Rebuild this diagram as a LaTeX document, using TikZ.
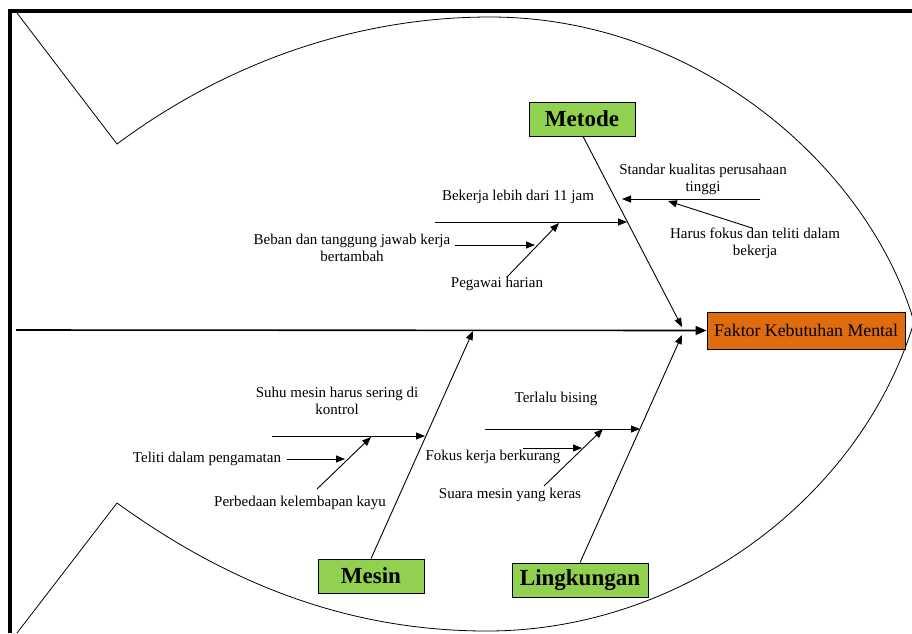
\documentclass[tikz,border=0pt]{standalone}
\usepackage{fontspec}
\setmainfont{Liberation Serif}
\usetikzlibrary{arrows.meta,positioning}

\definecolor{bonegreen}{RGB}{146,208,80}
\definecolor{headorange}{RGB}{224,108,16}

\tikzset{
  cause/.style={draw, line width=0.8pt, fill=bonegreen, font=\fontsize{23}{26}\selectfont\bfseries,
                minimum height=34pt, inner sep=0pt},
  effect/.style={draw, line width=1pt, fill=headorange, font=\fontsize{17.8}{20}\selectfont,
                 minimum width=198pt, minimum height=37pt, inner sep=0pt},
  lbl/.style={font=\fontsize{15}{17}\selectfont, align=center, inner sep=0pt},
  arr/.style={-{Triangle[length=9pt,width=7pt]}, line width=0.9pt},
  bone/.style={line width=0.8pt},
}

\begin{document}
\begin{tikzpicture}[x=1pt, y=-1pt]
        \useasboundingbox (0,0) rectangle (912,633);

        % the frame on the left and on top
        \draw[line width=4pt] (10,633) -- (10,11) -- (912,11);

        % the fish: tail and body
        \draw[bone] (17,13) -- (117,144)
                    .. controls (230,60) and (360,17) .. (490,17)
                    .. controls (700,17) and (870,170) .. (914,322)
                    .. controls (860,500) and (680,631) .. (487,631)
                    .. controls (330,631) and (210,570) .. (117,503)
                    -- (17,633);

        % head and main bones
        \node[effect] (faktor) at (806,330.5) {Faktor Kebutuhan Mental};
        \node[cause, minimum width=106pt] (metode) at (582,119) {Metode};
        \node[cause, minimum width=106pt] (mesin) at (371,576) {Mesin};
        \node[cause, minimum width=136pt] (lingkungan) at (580,580) {Lingkungan};

        \coordinate (tail) at (16,330);
        \coordinate (metodeend) at (682,327);
        \coordinate (lingkend) at (682,335);
        \coordinate (mesinend) at (473,331);

        \draw[-{Triangle[length=11pt,width=9pt]}, line width=1.6pt] (tail) -- (faktor.west);
        \draw[arr] (metode.south) ++(1,0) -- (metodeend);
        \draw[arr] (lingkungan.north) -- (lingkend);
        \draw[arr] (mesin.north) -- (mesinend);

        % Metode
        \node[lbl] (bekerja) at (518,197) {Bekerja lebih dari 11 jam};
        \node[lbl] (beban) at (352,248) {Beban dan tanggung jawab kerja\\bertambah};
        \node[lbl] (pegawai) at (497,284) {Pegawai harian};
        \node[lbl] (standar) at (703,179) {Standar kualitas perusahaan\\tinggi};
        \node[lbl] (harus) at (755,243) {Harus fokus dan teliti dalam\\bekerja};

        \coordinate (bekerja0) at (435,222);  \coordinate (bekerja1) at (627,222);
        \coordinate (beban0) at (455,245);    \coordinate (beban1) at (535,245);
        \coordinate (pegawai0) at (507,277);  \coordinate (pegawai1) at (559,223);
        \coordinate (standar0) at (760,199);  \coordinate (standar1) at (622,199);
        \coordinate (harus0) at (752,228);    \coordinate (harus1) at (668,201);

        \draw[arr] (bekerja0) -- (bekerja1);
        \draw[arr] (beban0) -- (beban1);
        \draw[arr] (pegawai0) -- (pegawai1);
        \draw[arr] (standar0) -- (standar1);
        \draw[arr] (harus0) -- (harus1);

        % Mesin
        \node[lbl] (suhu) at (337,401) {Suhu mesin harus sering di\\kontrol};
        \node[lbl] (teliti) at (207,459) {Teliti dalam pengamatan};
        \node[lbl] (perbedaan) at (300,503) {Perbedaan kelembapan kayu};

        \coordinate (suhu0) at (272,436);      \coordinate (suhu1) at (425,436);
        \coordinate (teliti0) at (287,459);    \coordinate (teliti1) at (345,459);
        \coordinate (perbedaan0) at (317,489); \coordinate (perbedaan1) at (371,437);

        \draw[arr] (suhu0) -- (suhu1);
        \draw[arr] (teliti0) -- (teliti1);
        \draw[arr] (perbedaan0) -- (perbedaan1);

        % Lingkungan
        \node[lbl] (terlalu) at (556,399) {Terlalu bising};
        \node[lbl] (fokus) at (493,457) {Fokus kerja berkurang};
        \node[lbl] (suara) at (510,495) {Suara mesin yang keras};

        \coordinate (terlalu0) at (485,429);  \coordinate (terlalu1) at (640,429);
        \coordinate (fokus0) at (523,448);    \coordinate (fokus1) at (582,448);
        \coordinate (suara0) at (544,486);    \coordinate (suara1) at (603,429);

        \draw[arr] (terlalu0) -- (terlalu1);
        \draw[arr] (fokus0) -- (fokus1);
        \draw[arr] (suara0) -- (suara1);
\end{tikzpicture}
\end{document}
